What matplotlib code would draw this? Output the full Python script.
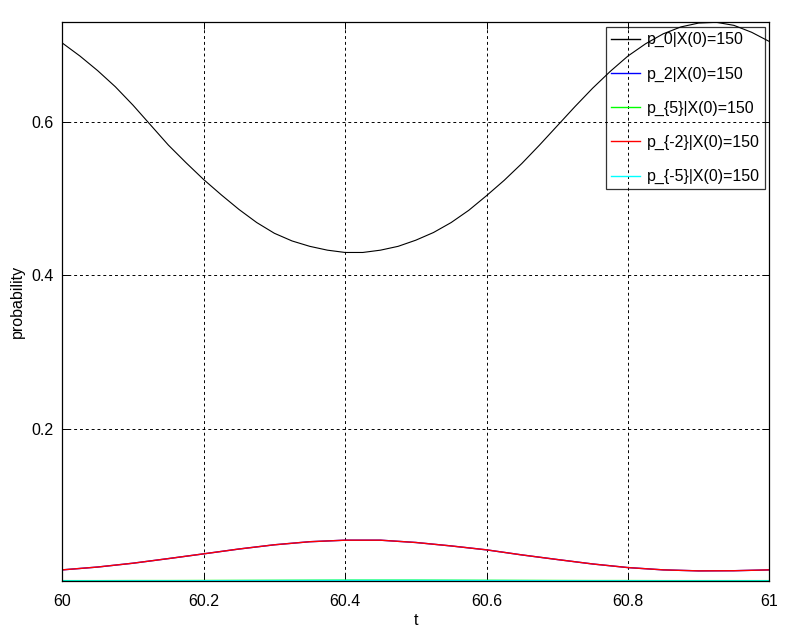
import numpy as np
import matplotlib.pyplot as plt

plt.rcParams['font.family'] = ['Liberation Sans', 'DejaVu Sans']

# time grid for the probability curves
t = [60.000, 60.025, 60.050, 60.075, 60.100, 60.125, 60.150, 60.175, 60.200,
     60.225, 60.250, 60.275, 60.300, 60.325, 60.350, 60.375, 60.400, 60.425,
     60.450, 60.475, 60.500, 60.525, 60.550, 60.575, 60.600, 60.625, 60.650,
     60.675, 60.700, 60.725, 60.750, 60.775, 60.800, 60.825, 60.850, 60.875,
     60.900, 60.925, 60.950, 60.975, 61.000]

p0 = [0.703, 0.686, 0.667, 0.646, 0.622, 0.596, 0.570, 0.547, 0.525,
      0.505, 0.486, 0.469, 0.455, 0.445, 0.438, 0.433, 0.430, 0.430,
      0.433, 0.438, 0.446, 0.456, 0.469, 0.485, 0.504, 0.524, 0.546,
      0.570, 0.595, 0.620, 0.644, 0.666, 0.686, 0.702, 0.715, 0.724,
      0.729, 0.730, 0.726, 0.717, 0.705]

# p_2 and p_{-2} lie on top of each other
t2 = [60.00, 60.05, 60.10, 60.15, 60.20, 60.25, 60.30, 60.35, 60.40, 60.45,
      60.50, 60.55, 60.60, 60.65, 60.70, 60.75, 60.80, 60.85, 60.90, 60.95, 61.00]
p2 = [0.0163, 0.0200, 0.0250, 0.0310, 0.0372, 0.0435, 0.0490, 0.0530, 0.0550, 0.0550,
      0.0520, 0.0475, 0.0424, 0.0358, 0.0298, 0.0240, 0.0193, 0.0163, 0.0150, 0.0152, 0.0163]
pm2 = [0.0163, 0.0200, 0.0250, 0.0310, 0.0372, 0.0435, 0.0490, 0.0530, 0.0550, 0.0550,
       0.0520, 0.0475, 0.0424, 0.0358, 0.0298, 0.0240, 0.0193, 0.0163, 0.0150, 0.0152, 0.0163]

# p_5 and p_{-5} are practically zero
p5 = [0.0018, 0.0018, 0.0019, 0.0019, 0.0020, 0.0021, 0.0022, 0.0023, 0.0024, 0.0024,
      0.0024, 0.0023, 0.0022, 0.0021, 0.0020, 0.0019, 0.0019, 0.0018, 0.0018, 0.0018, 0.0018]
pm5 = [0.0018, 0.0018, 0.0019, 0.0019, 0.0020, 0.0021, 0.0022, 0.0023, 0.0024, 0.0024,
       0.0024, 0.0023, 0.0022, 0.0021, 0.0020, 0.0019, 0.0019, 0.0018, 0.0018, 0.0018, 0.0018]

labels = ["p_0|X(0)=150", "p_2|X(0)=150", "p_{5}|X(0)=150",
          "p_{-2}|X(0)=150", "p_{-5}|X(0)=150"]

fig = plt.figure(figsize=(7.89, 6.4), dpi=100)
ax = fig.add_axes([62.3/789, 1 - 581/640, (769.3-62.3)/789, (581-22.3)/640])

ax.plot(t, p0, color='black', lw=0.8, label=labels[0])
ax.plot(t2, p2, color='blue', lw=1.0, label=labels[1])
ax.plot(t2, p5, color='#00ff00', lw=1.5, label=labels[2])
ax.plot(t2, pm2, color='red', lw=1.0, label=labels[3])
ax.plot(t2, pm5, color='cyan', lw=1.2, label=labels[4])

ax.set_xlim(60, 61)
ax.set_ylim(min(p5), max(p0))
ax.set_xticks([60, 60.2, 60.4, 60.6, 60.8, 61])
ax.set_xticklabels(["60", "60.2", "60.4", "60.6", "60.8", "61"])
ax.set_yticks([0.2, 0.4, 0.6])
ax.set_yticklabels(["0.2", "0.4", "0.6"])

ax.grid(True, color='black', linestyle=(0, (3, 3)), linewidth=0.7)
ax.tick_params(direction='in', length=5, width=0.7, labelsize=11.5,
               top=True, right=True, colors='black')
ax.tick_params(axis='x', pad=9)
ax.tick_params(axis='y', pad=6)
for s in ax.spines.values():
    s.set_linewidth(0.9)

ax.set_xlabel("t", fontsize=11.5, labelpad=3)
ax.set_ylabel("probability", fontsize=11.5, labelpad=5)

# legend box is see-through in the original
leg = ax.legend(loc='upper right', bbox_to_anchor=(764.7/789, 1 - 27.3/640),
                bbox_transform=fig.transFigure, fontsize=11.5, frameon=True,
                fancybox=False, facecolor='none', edgecolor='black',
                borderaxespad=0, borderpad=0.3, labelspacing=1.2,
                handlelength=1.8, handletextpad=0.45)
leg.get_frame().set_linewidth(0.9)
for h in leg.get_lines():
    h.set_linewidth(1.0)

fig.savefig("out.png", dpi=100)
